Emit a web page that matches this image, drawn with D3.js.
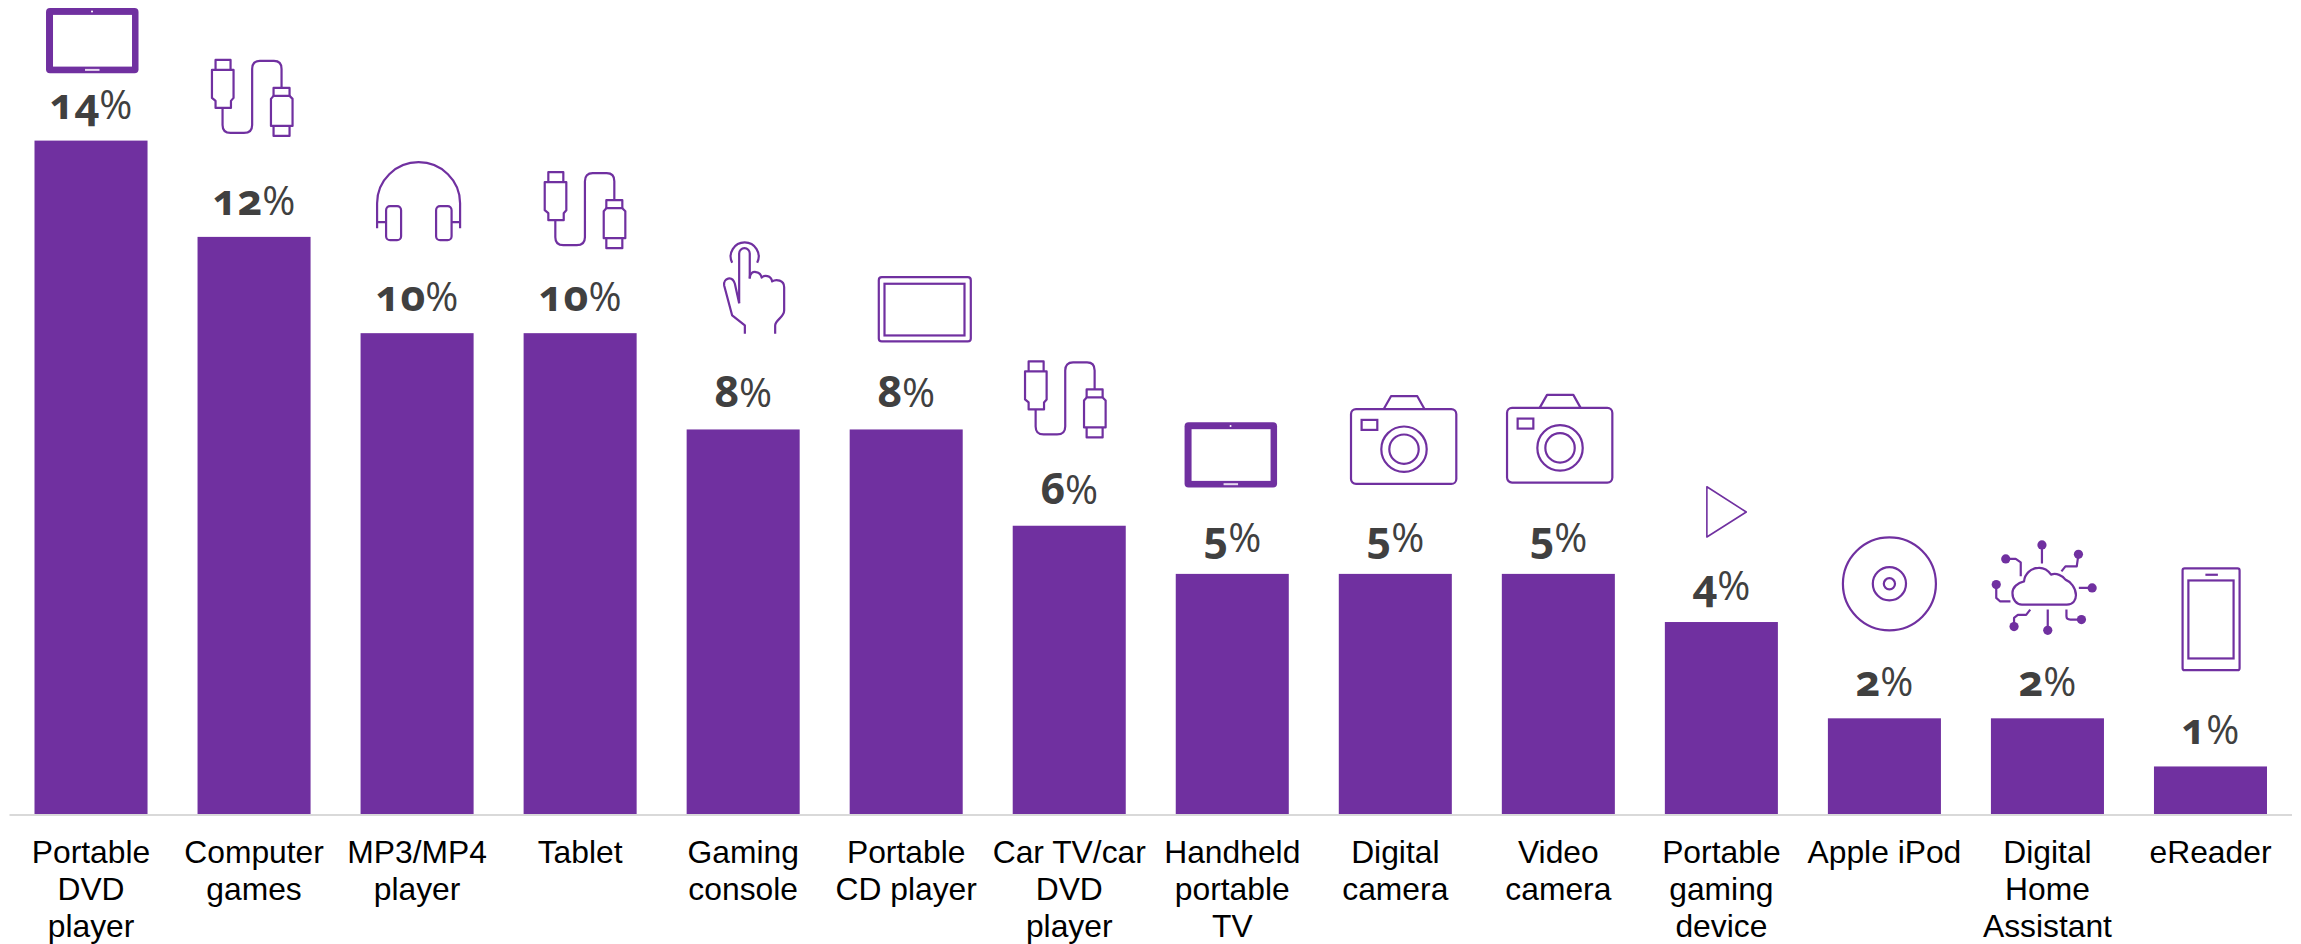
<!DOCTYPE html>
<html><head><meta charset="utf-8">
<style>html,body{margin:0;padding:0;background:#fff}svg{display:block}</style>
<script src="https://cdn.jsdelivr.net/npm/d3@7/dist/d3.min.js"></script>
</head><body><svg id="c" width="2301" height="944"></svg>
<script>
const categories=["Portable DVD player","Computer games","MP3/MP4 player","Tablet","Gaming console","Portable CD player","Car TV/car DVD player","Handheld portable TV","Digital camera","Video camera","Portable gaming device","Apple iPod","Digital Home Assistant","eReader"];
const categoryLines=[["Portable","DVD","player"],["Computer","games"],["MP3/MP4","player"],["Tablet"],["Gaming","console"],["Portable","CD player"],["Car TV/car","DVD","player"],["Handheld","portable","TV"],["Digital","camera"],["Video","camera"],["Portable","gaming","device"],["Apple iPod"],["Digital","Home","Assistant"],["eReader"]];
const values=[14,12,10,10,8,8,6,5,5,5,4,2,2,1];
const iconKinds=["tablet","cable","headphones","cable","hand","screen","cable","tablet","camera","camera","play","disc","cloud","phone"];
// icon placement: offset of icon origin from bar centre, and lift above bar top
const iconDx=[-45,-42.1,-40,-35.4,-19,-27.4,-44.2,-47.7,-44.3,-51.3,-14.5,-41.5,-57,-27.9];
const iconLift=[132.7,177,171,161,191.3,152.3,164.3,151.7,177.7,179,135.3,181,178.7,198];

const purple="#7030a0",ink="#404040";
const svg=d3.select("#c");
const x=d3.scaleBand().domain(categories).range([34.5,2267]).paddingInner(0.3067).paddingOuter(0);
const y=d3.scaleLinear().domain([0,14]).range([814.6,140.6]);

svg.selectAll("rect.bar").data(categories).join("rect").attr("class","bar")
  .attr("x",d=>x(d)).attr("width",x.bandwidth())
  .attr("y",(d,i)=>y(values[i])).attr("height",(d,i)=>y(0)-y(values[i])).attr("fill",purple);

const axis=svg.append("g").attr("transform",`translate(0,814)`)
  .call(d3.axisBottom(x).tickSize(0).tickFormat(""));
axis.select(".domain").remove();
svg.append("line").attr("x1",9.5).attr("x2",2292).attr("y1",815).attr("y2",815).attr("stroke","#d9d9d9").attr("stroke-width",2);
axis.selectAll(".tick text").each(function(d){
  const t=d3.select(this).text(null).attr("y",49).attr("dy",0)
    .attr("font-family","'Liberation Sans',Arial,sans-serif").attr("font-size",31.8).attr("fill","#000").attr("text-anchor","middle");
  categoryLines[categories.indexOf(d)].forEach((s,i)=>t.append("tspan").attr("x",0).attr("y",49+i*37).text(s));
});

const labels=svg.selectAll("text.val").data(categories).join("text").attr("class","val")
  .attr("x",d=>x(d)+x.bandwidth()/2).attr("y",(d,i)=>y(values[i])-22)
  .attr("text-anchor","middle").attr("font-family","'Open Sans',sans-serif").attr("fill",ink)
  .style("font-feature-settings","'onum' 1");
labels.append("tspan").attr("font-weight",700).attr("font-size",43).text((d,i)=>values[i]);
labels.append("tspan").attr("font-weight",500).attr("font-size",40).text("%");

function line(g,d,w){return g.append("path").attr("d",d).attr("fill","none").attr("stroke",purple).attr("stroke-width",w||2.2).attr("stroke-linejoin","round");}
function box(g,a,b,w,h,r,sw){return g.append("rect").attr("x",a).attr("y",b).attr("width",w).attr("height",h).attr("rx",r||0).attr("fill","none").attr("stroke",purple).attr("stroke-width",sw||2.2);}
function ring(g,a,b,r,sw){return g.append("circle").attr("cx",a).attr("cy",b).attr("r",r).attr("fill","none").attr("stroke",purple).attr("stroke-width",sw||2.2);}
function dot(g,a,b){return g.append("circle").attr("cx",a).attr("cy",b).attr("r",4.6).attr("fill",purple);}
const icons={
 tablet(g){
  g.append("rect").attr("width",92.5).attr("height",65.4).attr("rx",4).attr("fill",purple);
  g.append("rect").attr("x",7).attr("y",7).attr("width",79).attr("height",51.7).attr("fill","#fff");
  g.append("circle").attr("cx",46).attr("cy",3.7).attr("r",1).attr("fill","#fff");
  g.append("rect").attr("x",39).attr("y",61).attr("width",14.5).attr("height",2).attr("fill","#e6d9ee");
 },
 cable(g){
  line(g,"M3.6,10V0H18.6V10");
  line(g,"M0,10H21.6V38L19,41V48H3.6V41L0,38Z");
  line(g,"M10.6,48V65Q10.6,73 18.6,73H32Q40.2,73 40.2,65V9Q40.2,1 48,1H62Q69.6,1 69.6,9V28");
  line(g,"M61.6,36V28H77.6V36");
  line(g,"M61.6,36L59,39V66H80.6V39L77.6,36Z");
  line(g,"M61.6,66V76H77.6V66");
 },
 headphones(g){
  line(g,"M0,66V41A41.5,41 0 0 1 83,41V66");
  box(g,9,44,15,34,4); box(g,59,44,15.5,34,4);
  line(g,"M0,60H9M74.5,60H83");
 },
 hand(g){
  line(g,"M8,24.6A14,14 0 1 1 33,24.6");
  line(g,"M15,65V15.3A5.3,5.3 0 0 1 25.6,15.3V40.3");
  line(g,"M25.6,40.3C25.6,35 29,33 32,34C35,34.5 37,37 37.5,39.5C40,36.5 47,37 48,43.3C52,40.5 60,42 60,49V72.3C60,79 51,82 51,87.3V95.6");
  line(g,"M20.7,95.6V87.3L8,77.3L0,47.3C-1,40 8,37 10.7,45.6L15,65");
 },
 screen(g){ box(g,0,0,92,64.3,3); box(g,5.7,6.6,80,51.7,0); },
 camera(g){
  box(g,0,13,105.3,74.7,5);
  ring(g,53,53,22.7); ring(g,53,53,14.7);
  box(g,10.6,23.7,15.7,10,0);
  line(g,"M32.6,13L40,0H66.3L73.6,13");
 },
 play(g){ line(g,"M0,0L39.4,25.3L0,50.3Z",1.6); },
 disc(g){ ring(g,46.5,46.5,46.5); ring(g,46.5,46.5,16.6); ring(g,46.5,46.5,5.6); },
 cloud(g){
  line(g,"M31.5,65H76.4C83,65 85.5,60 85.5,55.7C85.5,48 80,42 75,40C72,36 66,33 60.6,35C57,30 52,28 48,28.3C40,28.3 34,35 33.6,41.7C27,43 22,48 22,53.3C22,60 26,65 31.5,65Z");
  line(g,"M51.5,5.3V24M88,14.7L86.3,26.7H75L71,31.7M88.4,48.3H101.7M76,70V76.7Q76,80 80,80H91M57.3,70V90.7M23.6,87V78.3L27.4,75.3H35.7L39.8,70M5.8,45V58.3L9.5,61.7H20M15.3,19.3H25.3L30.3,22.7V36.7");
  [[51.5,5.3],[88,14.7],[101.7,48.3],[91,80],[57.3,90.7],[23.6,87],[5.8,45],[15.3,19.3]].forEach(p=>dot(g,p[0],p[1]));
 },
 phone(g){ box(g,0,0,57,101.7,2); box(g,5.8,12,45.2,78,0); line(g,"M22.8,6.3H35.3"); }
};
svg.selectAll("g.icon").data(categories).join("g").attr("class","icon")
  .attr("transform",(d,i)=>`translate(${x(d)+x.bandwidth()/2+iconDx[i]},${y(values[i])-iconLift[i]})`)
  .each(function(d,i){icons[iconKinds[i]](d3.select(this));});
</script></body></html>
